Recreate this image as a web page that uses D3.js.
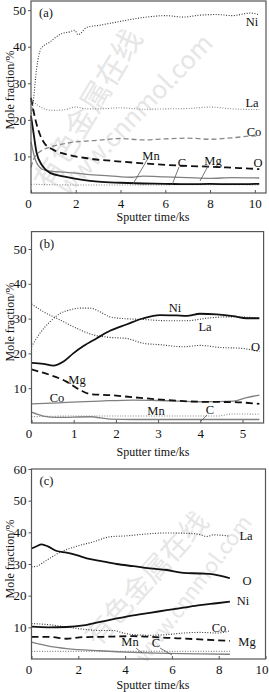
<!DOCTYPE html>
<html><head><meta charset="utf-8">
<script src="https://cdn.jsdelivr.net/npm/d3@7/dist/d3.min.js"></script>
<style>
body{margin:0;background:#fff;}
svg{display:block;font-family:"Liberation Serif","Times New Roman",serif;}
</style></head>
<body><svg id="c" width="269" height="692"></svg>
<script>
// ---------- DATA ----------
// Panel (a)
const aTicksX = [0, 2, 4, 6, 8, 10];
const aTicksY = [10, 20, 30, 40, 50];
const aNi = [[0,21],[0.1,25],[0.25,34],[0.45,39.5],[0.85,41.3],[1.3,43.4],[1.75,44.1],[1.95,44.5],[2.1,43.3],[2.5,45.3],[3.1,45.9],[3.7,46.6],[4.5,47.5],[5.3,48.2],[6.0,48.5],[6.8,48.1],[7.5,48.6],[8.3,48.8],[9.0,48.5],[9.8,49.2],[10.2,48.7]];
const aLa = [[0,25.5],[0.3,24],[0.6,23],[1.0,22.6],[1.5,22.8],[2.0,23.5],[2.5,23.0],[3.0,23.0],[4.0,23.3],[5.0,22.9],[6.0,23.0],[7.0,23.1],[8.0,23.5],[9.0,23.0],[10.2,22.8]];
const aCo = [[0,7],[0.1,9],[0.3,10.8],[0.6,12],[1.0,12.8],[1.5,13.5],[2.0,14],[3.0,14.4],[4.0,14.9],[5.0,14.5],[6.0,14.8],[7.0,15.0],[8.0,14.7],[9.0,15.1],[10.0,15.6],[10.2,15.2]];
const aO = [[0,26],[0.2,20],[0.4,16],[0.6,13.6],[1.0,11.8],[1.5,10.7],[2.5,9.5],[4.0,8.6],[5.5,7.9],[7.0,7.4],[8.0,7.2],[9.0,6.9],[10.0,6.6],[10.2,6.5]];
const aMn = [[0,21],[0.1,17],[0.25,11],[0.5,7.5],[0.85,5.5],[1.5,4.5],[2.3,3.6],[3.0,3.1],[4.0,2.8],[5.0,2.6],[6.0,2.5],[7.0,2.4],[8.0,2.5],[9.0,2.4],[10.2,2.5]];
const aMg = [[0,14],[0.2,9],[0.5,6.5],[0.85,6.0],[1.5,5.7],[2.5,5.1],[3.5,4.7],[4.5,4.3],[5.0,4.6],[6.0,4.4],[7.0,4.2],[8.0,4.0],[9.0,4.2],[10.2,4.1]];
const aC = [[0,2.4],[2,2.2],[5,2.2],[8,2.3],[10.2,2.2]];
// Panel (b)
const bTicksX = [0, 1, 2, 3, 4, 5];
const bTicksY = [10, 20, 30, 40, 50];
const bNi = [[0,17.3],[0.28,17.0],[0.52,16.5],[0.75,17.6],[0.99,20],[1.23,22.1],[1.54,24.3],[1.86,26.5],[2.25,28.3],[2.65,30.1],[3.04,31.0],[3.44,30.9],[3.68,30.8],[3.99,31.4],[4.39,31.2],[4.78,30.7],[5.1,30.1],[5.4,30.1]];
const bLa = [[0,21.9],[0.2,25.8],[0.44,29.1],[0.68,31.5],[0.91,32.5],[1.15,33],[1.39,33],[1.62,32],[1.86,30.5],[2.18,30],[2.57,29.8],[3.2,29.4],[3.68,29.4],[4.15,30.1],[4.62,30.5],[5.1,30.4],[5.4,30.1]];
const bO = [[0,34.2],[0.28,32],[0.68,29.6],[1.07,27.2],[1.47,25.3],[1.86,24.6],[2.25,24.3],[2.65,22.9],[3.04,22.5],[3.6,21.9],[3.99,22.3],[4.47,21.7],[4.94,21.5],[5.4,20.5]];
const bMg = [[0,15.4],[0.44,13.8],[0.83,11.9],[1.15,9.5],[1.39,8.3],[1.86,8.0],[2.41,7.4],[3.2,6.6],[3.99,6.1],[4.78,6.0],[5.4,5.5]];
const bCo = [[0,5.5],[0.83,5.9],[1.62,6.3],[2.41,6.6],[3.2,6.4],[3.99,6.1],[4.78,6.3],[5.1,7.3],[5.4,8.0]];
const bMn = [[0,3.1],[0.28,2.0],[0.6,1.6],[1.39,1.8],[1.86,1.1],[2.41,1.0],[3.2,1.0],[5.4,1.0]];
const bC = [[0,1.8],[1,2.0],[2,2.0],[3,2.0],[4.39,2.0],[4.78,2.6],[5.4,2.5]];
// Panel (c)
const cTicksX = [0, 2, 4, 6, 8, 10];
const cTicksY = [10, 20, 30, 40, 50, 60];
const cLa = [[0,29.1],[0.22,29.3],[0.65,31.2],[1.22,33.7],[1.93,35.6],[2.64,37.0],[3.36,38.6],[4.07,38.9],[4.78,39.4],[5.78,39.8],[6.63,39.7],[7.2,39.3],[7.49,38.7],[7.77,39.2],[8.48,38.8]];
const cO = [[0,34.9],[0.22,35.6],[0.43,36.2],[0.72,35.5],[1.08,34.1],[1.5,33.6],[1.93,32.8],[2.36,31.8],[2.93,31.0],[3.64,30.0],[4.35,29.3],[5.06,28.6],[5.78,28.1],[6.49,27.2],[7.2,27.0],[7.77,26.7],[8.05,26.3],[8.48,25.5]];
const cNi = [[0,10.2],[0.72,10.0],[1.5,10.1],[2.22,10.6],[2.93,11.7],[3.64,12.8],[4.35,13.8],[5.06,14.6],[5.78,15.4],[6.49,16.2],[7.2,17.0],[7.91,17.6],[8.48,18.1]];
const cCo = [[0,11.2],[0.79,10.8],[1.5,10.1],[2.22,9.4],[2.93,9.0],[3.5,9.0],[3.93,8.2],[4.35,7.7],[5.06,7.5],[5.78,7.7],[6.49,8.2],[7.2,8.4],[7.91,8.2],[8.48,8.9]];
const cMg = [[0,7.0],[0.8,7.0],[1.5,6.4],[2.2,6.9],[3.0,7.0],[4.35,7.2],[5.78,6.7],[7.2,6.2],[8.48,5.7]];
const cMn = [[0,5.3],[0.79,4.0],[1.5,3.3],[2.93,2.6],[4.35,2.1],[5.78,1.8],[7.2,1.6],[8.48,1.5]];
const cC = [[0,2.4],[3,2.4],[6,2.4],[8.48,2.4]];

// ---------- STYLES ----------
const ST = {
  blackSolid:{c:"#111",w:1.8,d:null},
  blackDash:{c:"#111",w:1.8,d:"7,4"},
  grayDash:{c:"#888",w:1.3,d:"5,3"},
  graySolid:{c:"#808080",w:1.3,d:null},
  darkDot:{c:"#333",w:1.1,d:"1,1.6"},
  grayDot:{c:"#888",w:1.1,d:"1,1.6"}
};

const panels = [
  {label:"(a)", xd:[0,10.5], yd:[0,52.5], xr:[31,266], yr:[193,1], tx:aTicksX, ty:aTicksY, titleY:217, yTitleY:90,
   series:[[aLa,ST.grayDot],[aC,ST.grayDot],[aNi,ST.darkDot],[aCo,ST.grayDash],[aMg,ST.graySolid],[aO,ST.blackDash],[aMn,ST.blackSolid]],
   labels:[["Ni",252,22],["La",252,103],["Co",254,132],["O",258,163],["Mn",151,156],["C",182,163],["Mg",213,161]],
   leaders:[[147,160,133,184],[179,167,172,185],[208,166,200,181]]},
  {label:"(b)", xd:[0,5.5], yd:[0,55], xr:[31.5,263.6], yr:[423,231.6], tx:bTicksX, ty:bTicksY, titleY:452, yTitleY:322,
   series:[[bC,ST.grayDot],[bMn,ST.graySolid],[bCo,ST.graySolid],[bLa,ST.darkDot],[bO,ST.darkDot],[bMg,ST.blackDash],[bNi,ST.blackSolid]],
   labels:[["Ni",175,308],["La",205,327],["O",255.5,347],["Mg",77,380],["Co",57,398],["Mn",156,411],["C",210,410]],
   leaders:[[207,415,201,421]]},
  {label:"(c)", xd:[0,10], yd:[0,60], xr:[31.5,265.5], yr:[659,469], tx:cTicksX, ty:cTicksY, titleY:685, yTitleY:559,
   series:[[cC,ST.grayDot],[cMn,ST.graySolid],[cCo,ST.darkDot],[cLa,ST.darkDot],[cMg,ST.blackDash],[cNi,ST.blackSolid],[cO,ST.blackSolid]],
   labels:[["La",246,536],["O",247,581],["Ni",243,601],["Co",219,628],["Mg",247,642],["Mn",130,642],["C",156,643]],
   leaders:[[136,648,142,653],[160,648,172,655]]}
];

const svg = d3.select("#c");

// watermark (background)
const wm = svg.append("g").attr("fill","#e4e4e4").attr("font-family","'Noto Sans CJK SC',sans-serif");
[["有色金属在线",86,108,-59,30],["www.cnnmol.com",133,113,-46,25],["有色金属在线",145,577,-48,28],["www.cnnmol.com",192,588,-53,21]].forEach(w=>{
  wm.append("text").attr("transform",`translate(${w[1]},${w[2]}) rotate(${w[3]})`)
    .attr("text-anchor","middle").attr("dominant-baseline","central").attr("font-size",w[4]).attr("opacity",0.9).text(w[0]);
});

panels.forEach(p=>{
  const x = d3.scaleLinear().domain(p.xd).range(p.xr);
  const y = d3.scaleLinear().domain(p.yd).range(p.yr);
  const g = svg.append("g");
  const line = d3.line().x(d=>x(d[0])).y(d=>y(d[1])).curve(d3.curveMonotoneX);
  p.series.forEach(([data,s])=>{
    g.append("path").datum(data).attr("d",line).attr("fill","none")
     .attr("stroke",s.c).attr("stroke-width",s.w).attr("stroke-dasharray",s.d)
     .attr("stroke-linejoin","round");
  });
  // frame
  g.append("rect").attr("x",p.xr[0]).attr("y",p.yr[1]).attr("width",p.xr[1]-p.xr[0]).attr("height",p.yr[0]-p.yr[1])
   .attr("fill","none").attr("stroke","#555").attr("stroke-width",1.2);
  // axes
  const xa = d3.axisBottom(x).tickValues(p.tx).tickSize(-3).tickPadding(6).tickFormat(d3.format("d"));
  const ya = d3.axisLeft(y).tickValues(p.ty).tickSize(3).tickPadding(2).tickFormat(d3.format("d"));
  const gx = g.append("g").attr("transform",`translate(0,${p.yr[0]})`).call(xa);
  const gy = g.append("g").attr("transform",`translate(${p.xr[0]},0)`).call(ya);
  [gx,gy].forEach(a=>{
    a.select(".domain").remove();
    a.selectAll("line").attr("stroke","#555");
    a.selectAll("text").attr("font-family","'Liberation Serif',serif").attr("font-size",13).attr("fill","#111");
  });
  gx.selectAll("text").filter(d=>d===0).attr("dx",-3);
  gx.selectAll("text").filter(d=>d===10 && p.xd[1]===10).attr("dx",-4);
  // series labels
  p.labels.forEach(l=>{
    g.append("text").attr("x",l[1]).attr("y",l[2]).attr("text-anchor","middle").attr("dominant-baseline","central")
     .attr("font-size",12.5).attr("fill","#111").text(l[0]);
  });
  p.leaders.forEach(l=>{
    g.append("line").attr("x1",l[0]).attr("y1",l[1]).attr("x2",l[2]).attr("y2",l[3]).attr("stroke","#555").attr("stroke-width",0.8);
  });
  // panel label
  g.append("text").attr("x",p.xr[0]+8).attr("y",p.yr[1]+12).attr("dominant-baseline","central").attr("font-size",12.5).attr("fill","#111").text(p.label);
  // axis titles
  g.append("text").attr("x",153).attr("y",p.titleY).attr("text-anchor","middle").attr("dominant-baseline","central")
   .attr("font-size",12).attr("fill","#111").text("Sputter time/ks");
  g.append("text").attr("transform",`translate(10,${p.yTitleY}) rotate(-90)`).attr("text-anchor","middle").attr("dominant-baseline","central")
   .attr("font-size",12).attr("fill","#111").text("Mole fraction/%");
});
</script></body></html>
